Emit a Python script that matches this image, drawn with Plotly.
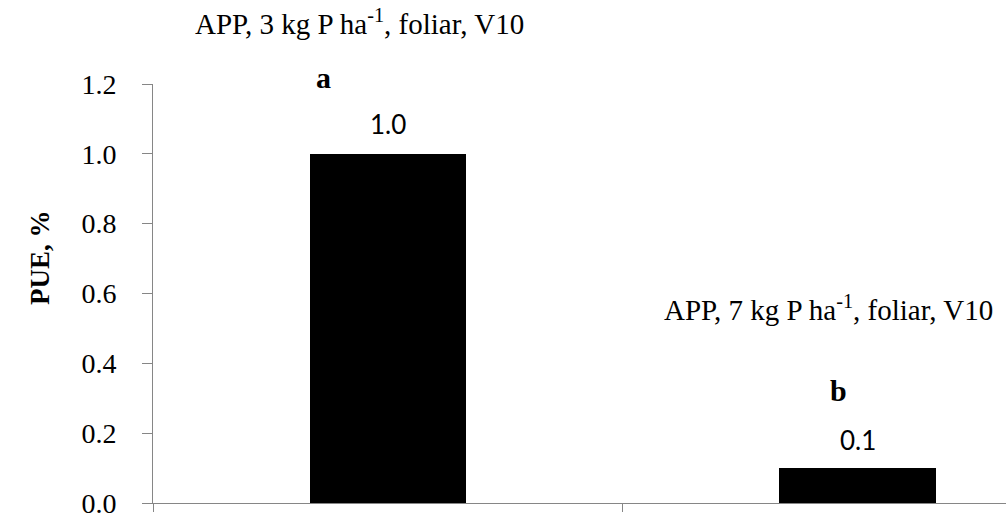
import plotly.graph_objects as go

# Data
categories = ["APP, 3 kg P ha<sup>-1</sup>, foliar, V10", "APP, 7 kg P ha<sup>-1</sup>, foliar, V10"]
pue_values = [1.0, 0.1]
value_labels = ["1.0", "0.1"]
letters = ["a", "b"]
y_ticks = [0.0, 0.2, 0.4, 0.6, 0.8, 1.0, 1.2]

xpos = list(range(len(categories)))
serif = "Liberation Serif, Times New Roman, serif"
axis_gray = "#868686"

fig = go.Figure()
fig.add_trace(go.Bar(
    x=xpos, y=pue_values, width=0.334,
    marker=dict(color="black", line=dict(width=0)),
    showlegend=False, hoverinfo="y",
))

# per category offsets in pixels
title_shift = [(-28, 132), (-29, 160)]
letter_shift = [(-64, 76), (-19, 78)]
label_shift = [30, 28]
for i, (cat, v, lab, let) in enumerate(zip(categories, pue_values, value_labels, letters)):
    fig.add_annotation(x=xpos[i], y=v, text=lab, showarrow=False, xref="x", yref="y",
                       yshift=label_shift[i], font=dict(family="Lato, Carlito, sans-serif", size=26, color="black"))
    fig.add_annotation(x=xpos[i], y=v, text="<b>" + let + "</b>", showarrow=False, xref="x", yref="y",
                       xshift=letter_shift[i][0], yshift=letter_shift[i][1],
                       font=dict(family=serif, size=30, color="black"))
    fig.add_annotation(x=xpos[i], y=v, text=cat, showarrow=False, xref="x", yref="y",
                       xshift=title_shift[i][0], yshift=title_shift[i][1],
                       font=dict(family=serif, size=29, color="black"))

# y-axis title
fig.add_annotation(x=(40 - 153) / 853, y=(503 - 258) / 419, xref="paper", yref="paper",
                   xanchor="center", yanchor="middle",
                   text="<b>PUE, %</b>", textangle=-90, showarrow=False,
                   font=dict(family=serif, size=27, color="black"))

fig.update_layout(
    width=1006, height=518,
    margin=dict(l=153, r=0, t=84, b=15),
    plot_bgcolor="white", paper_bgcolor="white",
    bargap=0,
)
fig.update_xaxes(
    range=[-0.5, 1.315], tickvals=[-0.5, 0.5], ticktext=["", ""], showticklabels=False,
    ticks="outside", ticklen=8, tickcolor=axis_gray, tickwidth=1,
    showline=True, linecolor=axis_gray, linewidth=1, showgrid=False, zeroline=False,
)
fig.update_yaxes(
    range=[0, 1.2], tickvals=y_ticks, ticktext=["%.1f" % t for t in y_ticks],
    ticks="outside", ticklen=10, tickcolor=axis_gray, tickwidth=1,
    showline=True, linecolor=axis_gray, linewidth=1, showgrid=False, zeroline=False,
    tickfont=dict(family=serif, size=28, color="black"), ticklabelstandoff=20,
    ticklabeloverflow="allow",
)

fig.write_html("out.html")
